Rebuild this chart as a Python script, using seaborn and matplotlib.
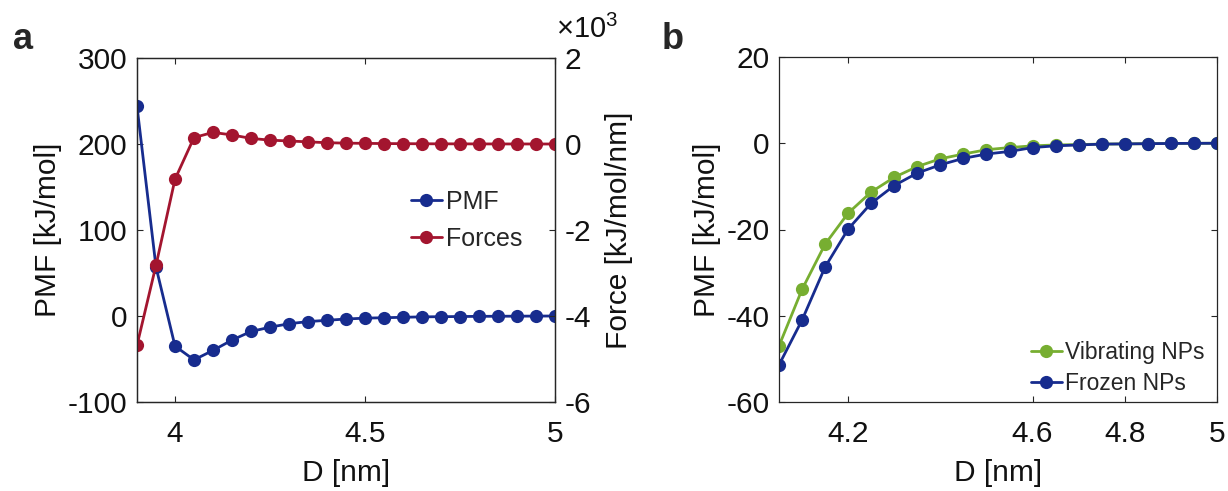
import numpy as np
import pandas as pd
import matplotlib
matplotlib.use("Agg")
import matplotlib.pyplot as plt
from matplotlib.ticker import FormatStrFormatter, FuncFormatter
from matplotlib.lines import Line2D
import seaborn as sns

# ---- data -------------------------------------------------------------
# panel a: PMF and mean force versus NP separation
d_a = [3.90, 3.95, 4.00, 4.05, 4.10, 4.15, 4.20, 4.25, 4.30, 4.35, 4.40, 4.45,
       4.50, 4.55, 4.60, 4.65, 4.70, 4.75, 4.80, 4.85, 4.90, 4.95, 5.00]
pmf_a = [244, 57, -35, -51, -40, -28, -18, -13, -9, -6.5, -5, -3.5,
         -2.5, -2, -1.5, -1, -0.8, -0.6, -0.4, -0.3, -0.2, -0.1, 0]
force_a = [-4680, -2820, -820, 150, 270, 210, 130, 90, 70, 50, 30, 20,
           15, 10, 8, 5, 4, 3, 2, 1, 1, 0, 0]

# panel b: PMF of vibrating vs frozen nanoparticles
d_b = [4.05, 4.10, 4.15, 4.20, 4.25, 4.30, 4.35, 4.40, 4.45, 4.50,
       4.55, 4.60, 4.65, 4.70, 4.75, 4.80, 4.85, 4.90, 4.95, 5.00]
pmf_vib = [-47, -33.9, -23.4, -16.2, -11.3, -7.9, -5.4, -3.6, -2.5, -1.5,
           -1.0, -0.6, -0.4, -0.3, -0.2, -0.15, -0.1, -0.05, -0.02, 0]
pmf_frz = [-51.4, -41, -28.7, -19.9, -13.9, -9.8, -6.9, -5.0, -3.5, -2.5,
           -1.9, -1.0, -0.6, -0.4, -0.2, -0.15, -0.1, -0.05, -0.02, 0]

xticks_a = [4, 4.5, 5]
yticks_a = [-100, 0, 100, 200, 300]
yticks_force = [-6000, -4000, -2000, 0, 2000]
force_scale = 1000
xticks_b = [4.2, 4.6, 4.8, 5]
yticks_b = [-60, -40, -20, 0, 20]

# ---- style ------------------------------------------------------------
sns.set_style("white")
plt.rcParams["font.family"] = ["Liberation Sans", "DejaVu Sans"]
plt.rcParams["mathtext.fontset"] = "custom"
plt.rcParams["mathtext.rm"] = "Liberation Sans"
plt.rcParams["axes.unicode_minus"] = False
plt.rcParams["axes.edgecolor"] = "#262626"
plt.rcParams["axes.linewidth"] = 0.9

BLUE = "#172c8e"
RED = "#a3152f"
GREEN = "#77ae31"
TXT = "#111111"
FS = 21.5
LW = 2.0
MS = 9.5

fig = plt.figure(figsize=(12.28, 4.91), dpi=100)
ax_a = fig.add_axes([137 / 1228, 89 / 491, 418 / 1228, 344 / 491])
ax_b = fig.add_axes([779 / 1228, 89 / 491, 438 / 1228, 345 / 491])


def line(ax, x, y, color, label):
    sns.lineplot(x=x, y=y, ax=ax, color=color, marker="o", markersize=MS,
                 linewidth=LW, mec=color, mew=0, label=label, legend=False,
                 sort=False)


def tick_style(ax, **kw):
    ax.tick_params(direction="in", length=4, width=0.8, colors="#262626",
                   labelcolor=TXT, labelsize=FS, **kw)


# ---- panel a ----------------------------------------------------------
line(ax_a, d_a, pmf_a, BLUE, "PMF")
ax_f = ax_a.twinx()
line(ax_f, d_a, force_a, RED, "Forces")

ax_a.set_xlim(3.9, 5.0)
ax_a.set_ylim(-100, 300)
ax_a.set_xticks(xticks_a)
ax_a.set_yticks(yticks_a)
ax_a.xaxis.set_major_formatter(FormatStrFormatter("%g"))
ax_f.set_ylim(-6000, 2000)
ax_f.set_yticks(yticks_force)
ax_f.yaxis.set_major_formatter(FuncFormatter(lambda v, p: f"{v / force_scale:g}"))
ax_f.text(1.002, 1.04, r"$\times10^{3}$", transform=ax_f.transAxes,
          ha="left", va="bottom", fontsize=21, color=TXT)

tick_style(ax_a, top=True, bottom=True, left=True, right=False)
ax_a.tick_params(axis="x", pad=13)
ax_a.tick_params(axis="y", pad=7)
tick_style(ax_f, left=False, right=True)
ax_f.tick_params(axis="y", pad=7)

ax_a.set_xlabel("D [nm]", fontsize=FS, color=TXT, labelpad=8)
ax_a.set_ylabel("PMF [kJ/mol]", fontsize=FS, color=TXT, labelpad=4)
ax_f.set_ylabel("Force [kJ/mol/nm]", fontsize=FS, color=TXT, labelpad=10)

h_a = [Line2D([], [], color=BLUE, marker="o", ms=MS, mew=0, lw=LW),
       Line2D([], [], color=RED, marker="o", ms=MS, mew=0, lw=LW)]
ax_f.legend(h_a, ["PMF", "Forces"], loc="center left",
            bbox_to_anchor=(0.655, 0.528), frameon=False, fontsize=18,
            handlelength=1.25, handletextpad=0.15, labelspacing=0.5,
            borderpad=0, borderaxespad=0)

# ---- panel b ----------------------------------------------------------
line(ax_b, d_b, pmf_vib, GREEN, "Vibrating NPs")
line(ax_b, d_b, pmf_frz, BLUE, "Frozen NPs")
ax_b.set_xlim(4.05, 5.0)
ax_b.set_ylim(-60, 20)
ax_b.set_xticks(xticks_b)
ax_b.set_yticks(yticks_b)
ax_b.xaxis.set_major_formatter(FormatStrFormatter("%g"))
tick_style(ax_b, top=True, bottom=True, left=True, right=True)
ax_b.tick_params(axis="x", pad=13)
ax_b.tick_params(axis="y", pad=7)
ax_b.set_xlabel("D [nm]", fontsize=FS, color=TXT, labelpad=8)
ax_b.set_ylabel("PMF [kJ/mol]", fontsize=FS, color=TXT, labelpad=4)
ax_b.legend(loc="center left", bbox_to_anchor=(0.575, 0.098), frameon=False,
            fontsize=16.5, handlelength=1.35, handletextpad=0.15,
            labelspacing=0.35, borderpad=0, borderaxespad=0)

for ax in (ax_a, ax_f, ax_b):
    for s in ax.spines.values():
        s.set_visible(True)
        s.set_color("#262626")

# panel letters
fig.text(13 / 1228, (491 - 49) / 491, "a", fontsize=26, fontweight="bold",
         va="baseline", ha="left")
fig.text(662 / 1228, (491 - 49) / 491, "b", fontsize=26, fontweight="bold",
         va="baseline", ha="left")

fig.savefig("out.png", dpi=100)
